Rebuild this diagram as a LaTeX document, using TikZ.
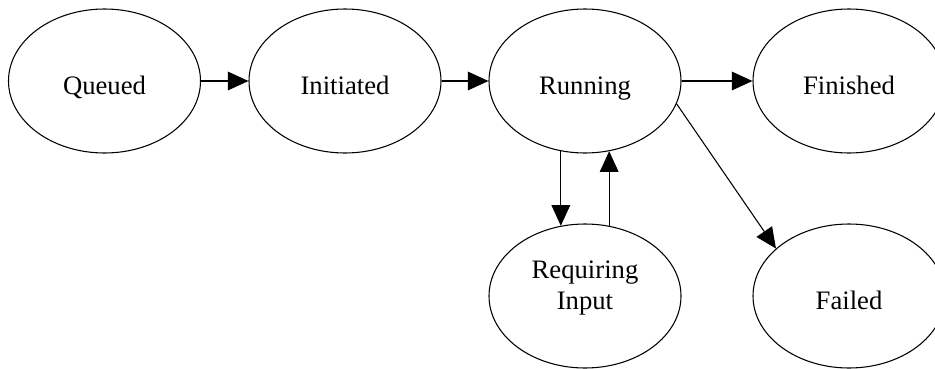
\documentclass[tikz,border=0pt]{standalone}
\usepackage{fontspec}
\setmainfont{Liberation Serif}
\usetikzlibrary{arrows.meta,shapes.geometric}
\begin{document}
\begin{tikzpicture}[x=0.75pt,y=-0.75pt,
  state/.style={draw, ellipse, line width=0.8pt, minimum width=144pt, minimum height=108pt,
    inner sep=0pt, align=center, font=\fontsize{20}{23}\selectfont,
    text height=19.5pt, text depth=0pt},
  flow/.style={line width=0.8pt, -{Triangle[length=15.5pt,width=14pt]}}]
  \useasboundingbox (0,0) rectangle (935,368);
  \node[state] (q) at (104.5,81) {Queued};
  \node[state] (i) at (345,81) {Initiated};
  \node[state] (r) at (585,81) {Running};
  \node[state] (d) at (849,81) {Finished};
  \node[state] (ri) at (585,296) {Requiring\\Input};
  \node[state] (f) at (849,296) {Failed};
  \draw[flow] (q.east) -- (i.west);
  \draw[flow] (i.east) -- (r.west);
  \draw[flow] (r.east) -- (d.west);
  \draw[flow] (r.-109) -- (ri.109);
  \draw[flow] (ri.71) -- (r.-71);
  \draw[flow] (r.-14) -- (f.147);
\end{tikzpicture}
\end{document}
